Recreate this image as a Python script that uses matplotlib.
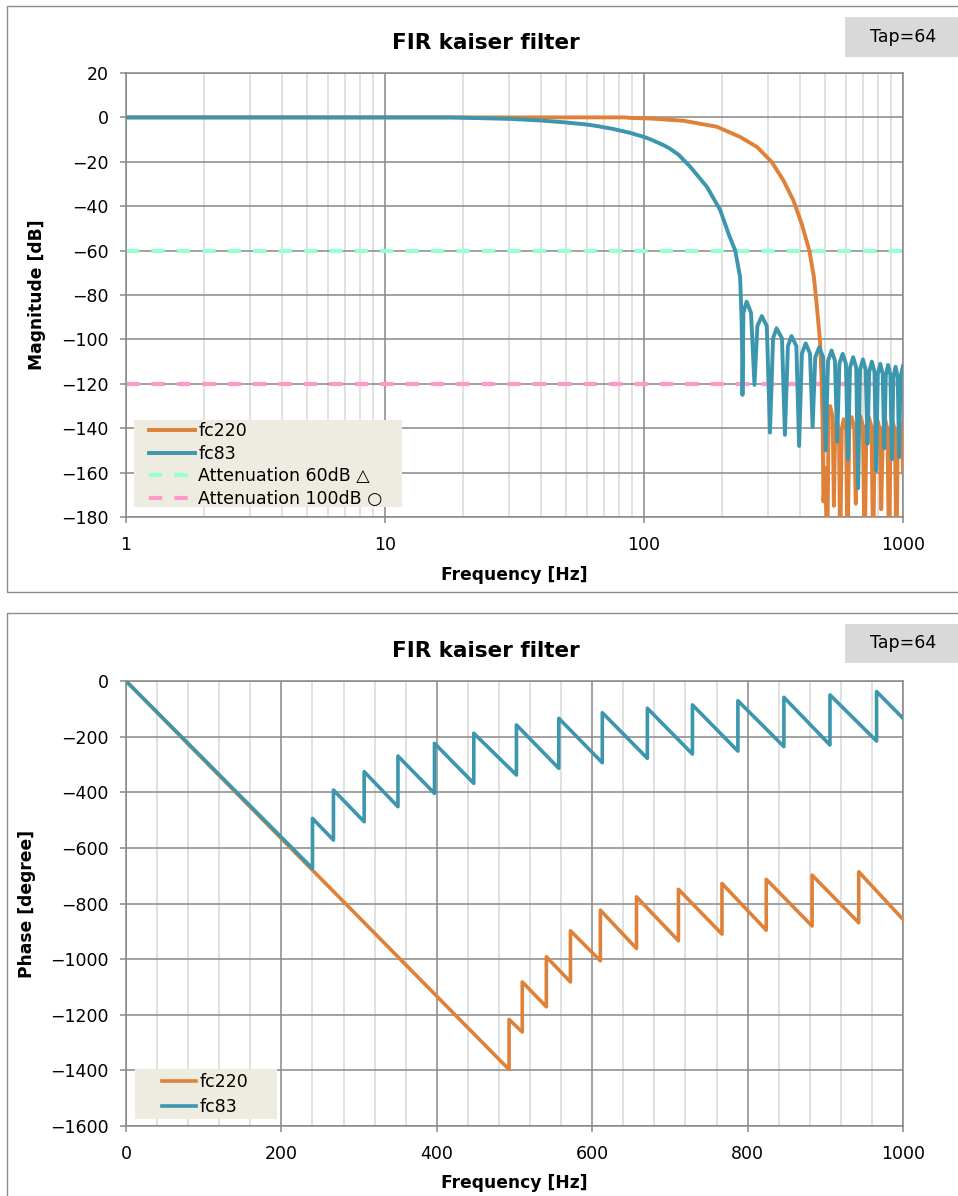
import matplotlib
matplotlib.use("Agg")
import matplotlib.pyplot as plt
from matplotlib.patches import Rectangle
from matplotlib.ticker import LogLocator, MultipleLocator, NullFormatter

plt.rcParams['font.family'] = ['DejaVu Sans']

# ---- data ----
mag_freq_fc220 = [1, 85, 90, 106, 142, 191, 235, 273, 311, 345,
                  377, 406, 435, 453, 464, 478, 485, 489, 493, 501,
                  510, 516, 523, 535, 541, 547, 556, 566, 572, 580,
                  590, 603, 610.5, 620, 633, 648, 657, 668, 684, 700,
                  711, 722, 738, 756, 767, 778, 795, 813, 824, 836,
                  853, 871, 883, 895, 913, 931, 943, 955, 975, 990,
                  1000]
mag_db_fc220 = [0, 0, -0.3, -0.5, -1.5, -4.2, -8.8, -13.3, -20, -28.3,
                -37.3, -47.8, -60, -72, -84, -100.5, -118.6, -136.7, -173, -158,
                -200, -135, -130, -135, -175, -141.5, -137, -141.5, -200, -140.5,
                -136, -140.5, -200, -139.5, -135, -139.5, -174, -139, -134.5, -139,
                -200, -139.5, -135, -139.5, -200, -140.5, -136, -140.5, -176.5, -140.5,
                -136, -140.5, -200, -141.5, -137, -141.5, -200, -142, -137.5, -142,
                -160]

mag_freq_fc83 = [1, 17.8, 31, 40, 49, 60, 66, 76, 88, 100,
                 106, 119, 126, 136, 151, 175, 197, 212, 225, 235,
                 238, 239.5, 240, 242, 249, 259, 267, 274, 285, 298,
                 306.5, 315, 325, 341, 350, 359.5, 371, 387.5, 397, 407,
                 421, 437.5, 447.6, 458.5, 475, 491.5, 502.5, 513.5, 530, 546,
                 557, 568, 585, 602, 613, 624.5, 642, 659.5, 671, 682.5,
                 700, 717.5, 729, 740.5, 758, 776, 787.5, 799.5, 817, 835,
                 846.7, 858.5, 876, 894, 906, 918, 936, 954, 966, 978,
                 1000]
mag_db_fc83 = [0, 0, -0.7, -1.4, -2.2, -3.2, -3.9, -5.2, -6.9, -8.8,
               -9.9, -12.5, -14.1, -16.8, -22.3, -31.3, -41.8, -52.4, -60, -72,
               -90, -108, -125, -88, -83, -88, -120.5, -94, -89.5, -94,
               -142, -99.5, -95, -99.5, -143, -103, -98.5, -103, -148, -106.4,
               -101.8, -106.4, -139.5, -108, -103.5, -108, -150, -109.6, -105, -109.6,
               -146, -111, -106.5, -111, -154, -112.6, -108, -112.6, -167, -113.6,
               -109, -113.6, -147, -114.6, -110, -114.6, -159, -115.6, -111, -115.6,
               -149, -116, -111.5, -116, -154, -117, -112.3, -117, -153, -117,
               -112]

atten_freq = [1, 1000]
atten60_db = [-60, -60]
atten100_db = [-120, -120]

ph_freq_fc220 = [0, 493, 493, 510, 510, 541, 541, 572, 572, 610.5, 610.5,
                 657, 657, 711, 711, 767, 767, 824, 824, 883, 883, 943, 943, 1000]
ph_deg_fc220 = [0, -1397, -1217, -1262, -1082, -1171.5, -991.7, -1082, -898, -1006, -824,
                -961.8, -776, -934, -749, -910, -728, -896, -713, -881, -698, -869, -686, -857]

ph_freq_fc83 = [0, 240, 240, 267, 267, 306.5, 306.5, 350, 350, 397, 397,
                447.6, 447.6, 502.5, 502.5, 557, 557, 613, 613, 671, 671,
                729, 729, 787.5, 787.5, 846.7, 846.7, 906, 906, 966, 966, 1000]
ph_deg_fc83 = [0, -674, -494, -572, -392, -506, -326, -452, -270, -404, -224,
               -368, -188, -338, -158, -314, -134, -294, -114, -278, -98,
               -262.6, -86, -252, -71, -236, -58.6, -230, -50, -216, -38, -134]

log_ticks = [1, 10, 100, 1000]
log_tick_labels = ["1", "10", "100", "1000"]

# ---- style ----
ORANGE = "#DF8139"
TEAL = "#3C96AE"
GREEN = "#99FFCC"
PINK = "#FF99CC"
GRID_MAJOR = "#888888"
GRID_MINOR = "#D9D9D9"
FRAME = "#8C8C8C"
LEG_BG = "#EEEBE0"
FS = 12.5

W, H = 958, 1196
fig = plt.figure(figsize=(W / 100, H / 100), dpi=100)


def fx(px):
    return px / W


def fy(py):
    return 1 - py / H


def box(x0, y0, x1, y1, ax=None, **kw):
    r = Rectangle((fx(x0), fy(y1)), fx(x1) - fx(x0), fy(y0) - fy(y1),
                  transform=fig.transFigure, **kw)
    if ax is None:
        fig.patches.append(r)
    else:
        r.set_clip_on(False)
        ax.add_artist(r)
    return r


def style_axes(ax):
    for s in ax.spines.values():
        s.set_color(GRID_MAJOR)
        s.set_linewidth(1.1)
    ax.tick_params(axis='both', which='major', direction='out', length=4.5,
                   width=1.1, color=GRID_MAJOR, labelsize=FS)
    ax.tick_params(axis='x', which='major', pad=9)
    ax.tick_params(axis='y', which='major', pad=8)
    ax.tick_params(which='minor', length=0)
    ax.grid(True, which='major', color=GRID_MAJOR, lw=1.1)
    ax.grid(True, which='minor', axis='x', color=GRID_MINOR, lw=1.1)
    ax.set_axisbelow(True)


# panel frames and tap boxes
box(7, 6, 962, 592, fill=False, ec=FRAME, lw=1)
box(7, 613, 962, 1200, fill=False, ec=FRAME, lw=1)
for y0, y1 in [(17, 57), (624, 663)]:
    box(845, y0, 962, y1, fc="#D9D9D9", ec="none")
    fig.text(fx(903.5), fy((y0 + y1) / 2), "Tap=64", ha='center', va='center', fontsize=FS)

fig.text(fx(485.5), fy(43), "FIR kaiser filter", ha='center', va='center',
         fontsize=15.5, fontweight='bold')
fig.text(fx(485.5), fy(651), "FIR kaiser filter", ha='center', va='center',
         fontsize=15.5, fontweight='bold')

# ---- magnitude ----
ax1 = fig.add_axes([fx(126), fy(517), (903 - 126) / W, (517 - 73) / H])
ax1.set_xscale('log')
ax1.plot(mag_freq_fc220, mag_db_fc220, color=ORANGE, lw=2.8, label="fc220", zorder=3)
ax1.plot(mag_freq_fc83, mag_db_fc83, color=TEAL, lw=2.8, label="fc83", zorder=4)
ax1.plot(atten_freq, atten60_db, color=GREEN, lw=3.0, linestyle=(0, (3.2, 2.9)),
         label="Attenuation 60dB \u25b3", zorder=2)
ax1.plot(atten_freq, atten100_db, color=PINK, lw=3.0, linestyle=(0, (3.2, 2.9)),
         label="Attenuation 100dB \u25cb", zorder=2)
ax1.set_xlim(1, 1000)
ax1.set_ylim(-180, 20)
ax1.set_xticks(log_ticks)
ax1.set_xticklabels(log_tick_labels)
ax1.xaxis.set_minor_locator(LogLocator(base=10, subs=range(2, 10)))
ax1.xaxis.set_minor_formatter(NullFormatter())
ax1.yaxis.set_major_locator(MultipleLocator(20))
style_axes(ax1)
ax1.set_xlabel("Frequency [Hz]", fontsize=12.3, fontweight='bold', va='center')
ax1.xaxis.set_label_coords(0.5, -0.1306)
ax1.set_ylabel("Magnitude [dB]", fontsize=12.3, fontweight='bold', va='center')
ax1.yaxis.set_label_coords(-0.1145, 0.5)

box(134, 420, 402, 507, ax=ax1, fc=LEG_BG, ec="none", zorder=5)
leg1 = ax1.legend(loc='upper left', bbox_to_anchor=((147 - 126) / 777, (517 - 420) / 444),
                  borderaxespad=0, borderpad=0.1, frameon=False, fontsize=FS,
                  handlelength=2.65, handletextpad=0.2, labelspacing=0.28)
leg1.set_zorder(6)

# ---- phase ----
ax2 = fig.add_axes([fx(126), fy(1126), (903 - 126) / W, (1126 - 681) / H])
ax2.plot(ph_freq_fc220, ph_deg_fc220, color=ORANGE, lw=2.6, label="fc220", zorder=3)
ax2.plot(ph_freq_fc83, ph_deg_fc83, color=TEAL, lw=2.6, label="fc83", zorder=4)
ax2.set_xlim(0, 1000)
ax2.set_ylim(-1600, 0)
ax2.xaxis.set_major_locator(MultipleLocator(200))
ax2.xaxis.set_minor_locator(MultipleLocator(40))
ax2.yaxis.set_major_locator(MultipleLocator(200))
style_axes(ax2)
ax2.set_xlabel("Frequency [Hz]", fontsize=12.3, fontweight='bold', va='center')
ax2.xaxis.set_label_coords(0.5, -0.128)
ax2.set_ylabel("Phase [degree]", fontsize=12.3, fontweight='bold', va='center')
ax2.yaxis.set_label_coords(-0.1268, 0.5)

box(135, 1069, 277, 1119, ax=ax2, fc=LEG_BG, ec="none", zorder=5)
leg2 = ax2.legend(loc='upper left', bbox_to_anchor=((160 - 126) / 777, (1126 - 1071) / 445),
                  borderaxespad=0, borderpad=0.1, frameon=False, fontsize=FS,
                  handlelength=2.0, handletextpad=0.2, labelspacing=0.42)
leg2.set_zorder(6)

fig.savefig("out.png", dpi=100)
